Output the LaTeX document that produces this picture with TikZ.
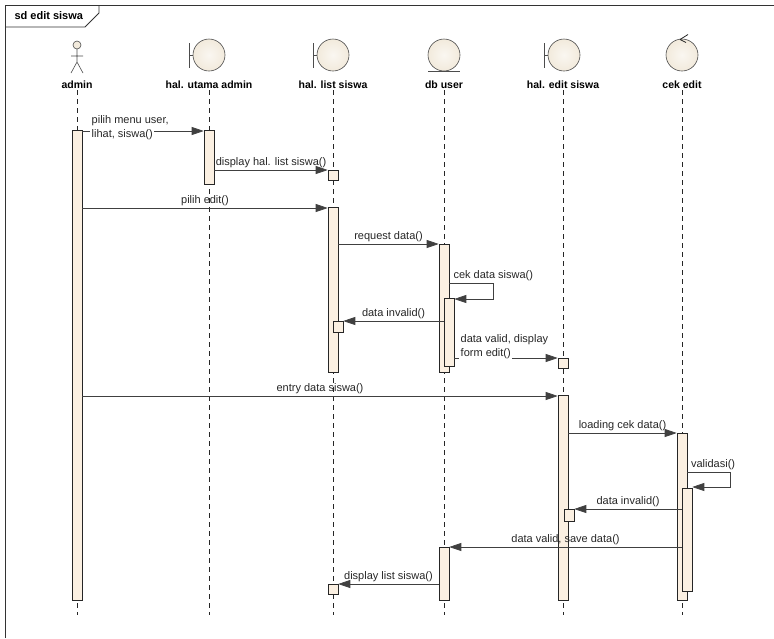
\documentclass[tikz,border=0pt]{standalone}
\usepackage{fontspec}
\setmainfont{Liberation Sans}
\usetikzlibrary{arrows.meta,shadows}
\definecolor{barfill}{HTML}{FBF0E2}
\definecolor{headfill}{HTML}{F2EADC}
\definecolor{linegray}{HTML}{404040}
\tikzset{
  bar/.style={draw=black!85, fill=barfill, minimum width=10pt, inner sep=0pt, line width=0.6pt,
    drop shadow={shadow xshift=1pt, shadow yshift=-1pt, fill=black!40, opacity=0.8}},
  msg/.style={draw=linegray, line width=0.7pt, -{Triangle[length=12pt,width=8pt]}},
  lbl/.style={font=\fontsize{11}{13.5}\selectfont, text=black!85, inner sep=1.5pt},
  lname/.style={font=\fontsize{10.5}{13}\selectfont\bfseries, inner sep=1pt},
  life/.style={draw=black!85, line width=0.6pt, dash pattern=on 5pt off 4pt},
  icon/.style={draw=black!70, line width=0.6pt},
  ball/.style={icon, inner color=white!60!headfill, outer color=headfill}
}
\begin{document}
\begin{tikzpicture}[x=1pt,y=-1pt]
\useasboundingbox (0,0) rectangle (774,638);
\draw [black!80, line width=0.8pt] (5,638) -- (5,5) -- (774,5);
\draw [black!80, line width=0.8pt] (5,27) -- (85,27) -- (99,13) -- (99,5);
\node [font=\fontsize{11}{13}\selectfont\bfseries, anchor=west] (frameTitle) at (11,16) {sd edit siswa};
% heads
\draw [icon, fill=headfill] (77,45) circle (4);
\draw [icon] (77,49) -- (77,62) (71,56) -- (83,56) (71,73) -- (77,62) -- (83,73);
\draw [icon] (189,43) -- (189,68) (189,55.5) -- (193,55.5);
\shade [ball] (209,55) circle (16);
\draw [icon] (313,43) -- (313,68) (313,55.5) -- (317,55.5);
\shade [ball] (333,55) circle (16);
\shade [ball] (444,55) circle (16);
\draw [icon] (428,71) -- (460,71);
\draw [icon] (544,43) -- (544,68) (544,55.5) -- (548,55.5);
\shade [ball] (564,55) circle (16);
\shade [ball] (682,55) circle (16);
\draw [black!85, line width=0.8pt] (680,39.5) -- (688,34.5) (680,39.5) -- (686,42.5);
\node [lname] (nAdmin) at (77,85) {admin};
\node [lname] (nUtama) at (209,85) {hal. utama admin};
\node [lname] (nList) at (333,85) {hal. list siswa};
\node [lname] (nDb) at (444,85) {db user};
\node [lname] (nEdit) at (563,85) {hal. edit siswa};
\node [lname] (nCek) at (682,85) {cek edit};
\coordinate (yEnd) at (0,615);
\foreach \n in {nAdmin,nUtama,nList,nDb,nEdit,nCek}
  \draw [life] (\n.south) -- (\n |- yEnd);
% activations
\node [bar, minimum height=470pt] (admAct) at (77,365) {};
\node [bar, minimum height=54pt] (utmAct) at (209,157) {};
\node [bar, minimum height=10pt] (lstBox1) at (333,175) {};
\node [bar, minimum height=165pt] (lstAct) at (333,289.5) {};
\node [bar, minimum height=128pt] (dbAct) at (444,308) {};
\node [bar, minimum height=68pt] (dbNest) at (449,332) {};
\node [bar, minimum height=11pt] (lstBox2) at (338,326.5) {};
\node [bar, minimum height=10pt] (edtBox1) at (563,363) {};
\node [bar, minimum height=205pt] (edtAct) at (563,497.5) {};
\node [bar, minimum height=167pt] (cekAct) at (682,516.5) {};
\node [bar, minimum height=103pt] (cekNest) at (687,539.5) {};
\node [bar, minimum height=12pt] (edtBox2) at (569,515) {};
\node [bar, minimum height=53pt] (dbAct2) at (444,573.5) {};
\node [bar, minimum height=10pt] (lstBox3) at (333,589) {};
% messages
\coordinate (y1) at (0,131);
\coordinate (y2) at (0,170);
\coordinate (y3) at (0,208);
\coordinate (y4) at (0,244);
\coordinate (y5) at (0,283);
\coordinate (y5b) at (0,299);
\coordinate (y6) at (0,321);
\coordinate (y7) at (0,358);
\coordinate (y8) at (0,396);
\coordinate (y9) at (0,433);
\coordinate (y10) at (0,472);
\coordinate (y10b) at (0,487);
\coordinate (y11) at (0,509);
\coordinate (y12) at (0,547);
\coordinate (y13) at (0,584);
\draw [msg] (admAct.east |- y1) -- (utmAct.west |- y1);
\node [lbl, anchor=west] (t1a) at (90,121) {pilih menu user,};
\node [lbl, anchor=west, fill=white] (t1b) at (90,135) {lihat, siswa()};
\draw [msg] (utmAct.east |- y2) -- node [lbl, above] (t2) {display hal. list siswa()} (lstBox1.west |- y2);
\draw [msg] (admAct.east |- y3) -- node [lbl, above] (t3) {pilih edit()} (lstAct.west |- y3);
\draw [msg] (lstAct.east |- y4) -- node [lbl, above] (t4) {request data()} (dbAct.west |- y4);
\draw [msg] (dbAct.east |- y5) -- ++(44,0) node [lbl, above] (t5) {cek data siswa()} |- (dbNest.east |- y5b);
\draw [msg] (dbNest.west |- y6) -- node [lbl, above] (t6) {data invalid()} (lstBox2.east |- y6);
\draw [msg] (dbNest.east |- y7) -- (edtBox1.west |- y7);
\node [lbl, anchor=west] (t7a) at (459,340) {data valid, display};
\node [lbl, anchor=west, fill=white] (t7b) at (459,354) {form edit()};
\draw [msg] (admAct.east |- y8) -- node [lbl, above] (t8) {entry data siswa()} (edtAct.west |- y8);
\draw [msg] (edtAct.east |- y9) -- node [lbl, above] (t9) {loading cek data()} (cekAct.west |- y9);
\draw [msg] (cekAct.east |- y10) -- node [lbl, above, pos=0.6] (t10) {validasi()} ++(43,0) |- (cekNest.east |- y10b);
\draw [msg] (cekNest.west |- y11) -- node [lbl, above] (t11) {data invalid()} (edtBox2.east |- y11);
\draw [msg] (cekNest.west |- y12) -- node [lbl, above] (t12) {data valid, save data()} (dbAct2.east |- y12);
\draw [msg] (dbAct2.west |- y13) -- node [lbl, above] (t13) {display list siswa()} (lstBox3.east |- y13);
\end{tikzpicture}
\end{document}
